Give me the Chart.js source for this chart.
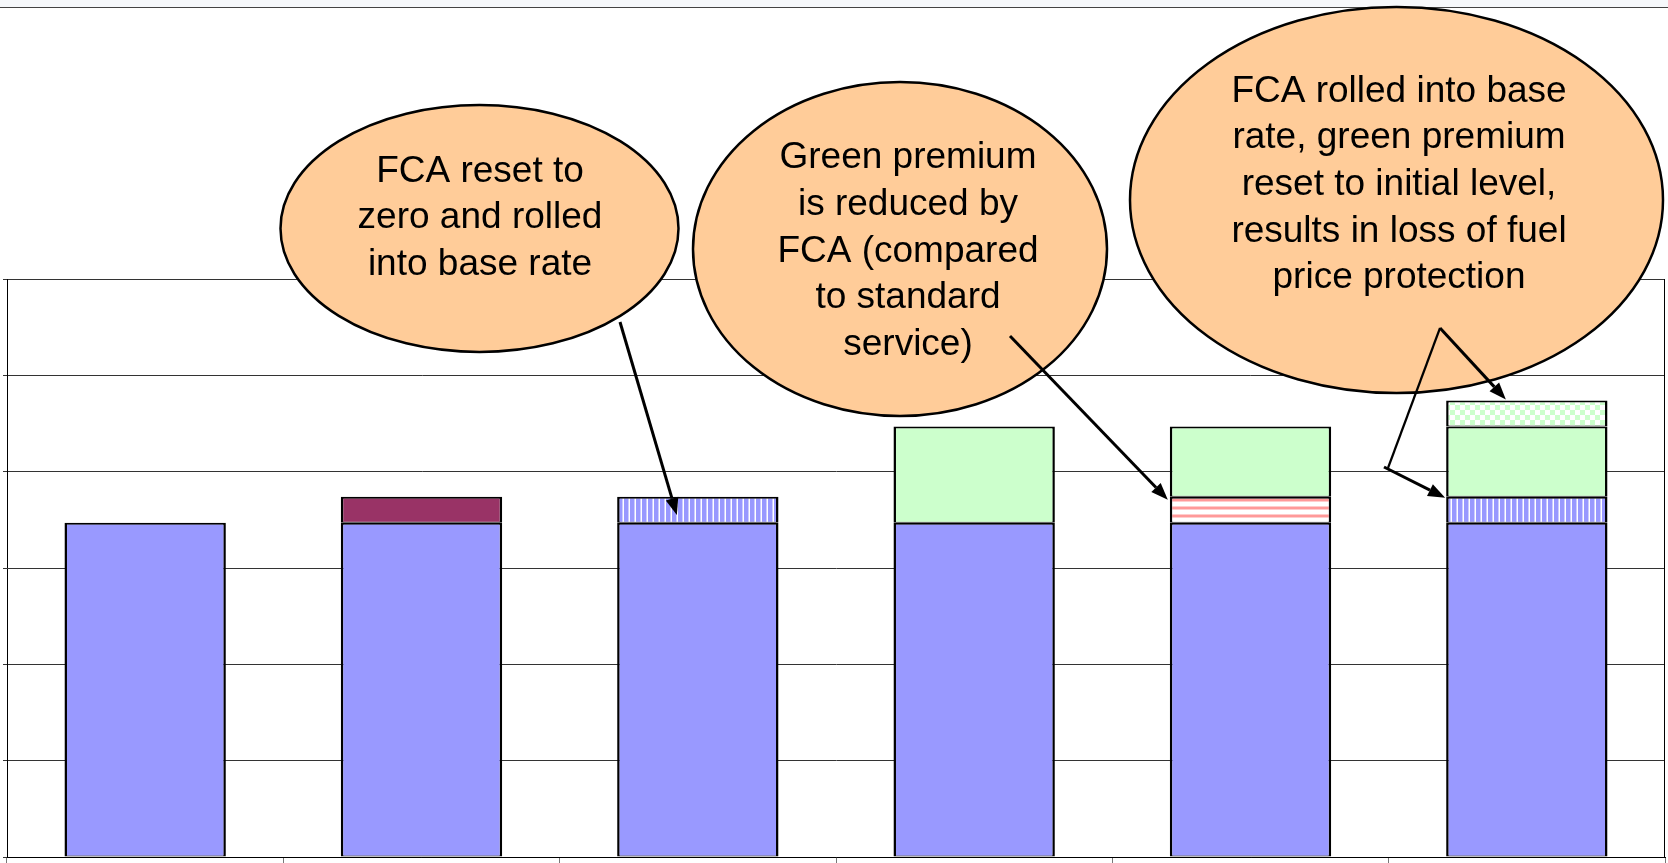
<!DOCTYPE html>
<html>
<head>
<meta charset="utf-8">
<script src="https://cdn.jsdelivr.net/npm/chart.js@4.4.1/dist/chart.umd.min.js"></script>
<style>
  html, body { margin: 0; padding: 0; background: #fff; }
  #chart { display: block; }
</style>
</head>
<body>
<canvas id="chart" width="1668" height="863"></canvas>
<script>
// categories (no visible labels in the picture)
const categories = ['Standard', 'Standard + FCA', 'FCA rolled in', 'Green', 'Green + FCA', 'Green, FCA rolled in'];

// stacked segments, in grid-line units
const baseRate     = [3.47, 3.47, 3.47, 3.47, 3.47, 3.47];
const fcaCharge    = [0, 0.27, 0, 0, 0, 0];
const fcaRolledIn  = [0, 0, 0.27, 0, 0, 0.27];
const fcaReduction = [0, 0, 0, 0, 0.27, 0];
const greenPremium = [0, 0, 0, 1.0, 0.73, 0.73];
const greenReset   = [0, 0, 0, 0, 0, 0.27];

const yMin = 0, yMax = 6, yStep = 1;

const calloutText = [
  ['FCA reset to', 'zero and rolled', 'into base rate'],
  ['Green premium', 'is reduced by', 'FCA (compared', 'to standard', 'service)'],
  ['FCA rolled into base', 'rate, green premium', 'reset to initial level,', 'results in loss of fuel', 'price protection']
];

// fill patterns
const makePattern = (w, h, draw) => {
  const c = document.createElement('canvas');
  c.width = w; c.height = h;
  const g = c.getContext('2d');
  g.fillStyle = '#fff';
  g.fillRect(0, 0, w, h);
  draw(g);
  return g.createPattern(c, 'repeat');
};
const blueStripes = makePattern(6, 1, g => {
  g.fillStyle = '#9999ff'; g.fillRect(0, 0, 4, 1);
  g.fillStyle = '#ccccff'; g.fillRect(4, 0, 1, 1);
});
const redStripes = makePattern(1, 8, g => {
  g.fillStyle = '#ffcccc'; g.fillRect(0, 2, 1, 1); g.fillRect(0, 5, 1, 1);
  g.fillStyle = '#ff9999'; g.fillRect(0, 3, 1, 2);
});
const greenChecks = makePattern(10, 10, g => {
  g.fillStyle = '#ccffcc'; g.fillRect(0, 0, 5, 5); g.fillRect(5, 5, 5, 5);
});

const segBorder = ctx => ctx.raw ? {top: 2, left: 2.5, right: 2.5, bottom: 1} : 0;

const seg = (label, data, fill) => ({
  label: label,
  data: data,
  backgroundColor: fill,
  borderColor: '#000',
  borderWidth: segBorder,
  borderSkipped: false,
  barPercentage: 0.584,
  categoryPercentage: 1
});

const drawArrow = (ctx, x1, y1, x2, y2, w) => {
  const a = Math.atan2(y2 - y1, x2 - x1);
  const len = 17, half = 6.5;
  const bx = x2 - len * Math.cos(a), by = y2 - len * Math.sin(a);
  ctx.lineWidth = w;
  ctx.beginPath(); ctx.moveTo(x1, y1); ctx.lineTo(bx, by); ctx.stroke();
  ctx.beginPath();
  ctx.moveTo(x2, y2);
  ctx.lineTo(bx + half * Math.sin(a), by - half * Math.cos(a));
  ctx.lineTo(bx - half * Math.sin(a), by + half * Math.cos(a));
  ctx.closePath(); ctx.fill();
};

const calloutPlugin = {
  id: 'callouts',
  beforeDraw(chart) {
    const ctx = chart.ctx;
    ctx.save();
    ctx.fillStyle = '#f6f8fb';
    ctx.fillRect(0, 0, chart.width, 7);
    ctx.strokeStyle = '#444';
    ctx.lineWidth = 1;
    ctx.beginPath(); ctx.moveTo(0, 7.5); ctx.lineTo(chart.width, 7.5); ctx.stroke();
    ctx.restore();
  },
  afterDraw(chart) {
    const ctx = chart.ctx;
    const area = chart.chartArea;
    ctx.save();
    // right frame of the plot
    ctx.strokeStyle = '#000';
    ctx.lineWidth = 1;
    ctx.beginPath(); ctx.moveTo(area.right - 0.5, area.top); ctx.lineTo(area.right - 0.5, area.bottom); ctx.stroke();

    // ovals
    const ovals = [
      {cx: 479.5, cy: 228.5, rx: 199, ry: 123.5, tx: 480, y0: 181.7},
      {cx: 900, cy: 249, rx: 207, ry: 167, tx: 908, y0: 168.3},
      {cx: 1396.5, cy: 200, rx: 266.5, ry: 193, tx: 1399, y0: 101.7}
    ];
    ovals.forEach((o, i) => {
      ctx.beginPath();
      ctx.ellipse(o.cx, o.cy, o.rx, o.ry, 0, 0, Math.PI * 2);
      ctx.fillStyle = '#ffcc99';
      ctx.fill();
      ctx.lineWidth = 2.5;
      ctx.strokeStyle = '#000';
      ctx.stroke();
      ctx.fillStyle = '#000';
      ctx.font = '37px "Liberation Sans", Arial, sans-serif';
      ctx.textAlign = 'center';
      ctx.textBaseline = 'alphabetic';
      calloutText[i].forEach((t, k) => ctx.fillText(t, o.tx, o.y0 + k * 46.65));
    });

    // arrows to the bar segments
    const el = (d, i) => chart.getDatasetMeta(d).data[i];
    ctx.fillStyle = '#000';
    ctx.strokeStyle = '#000';
    ctx.lineCap = 'butt';

    const a1 = el(2, 2);
    drawArrow(ctx, 620, 322, a1.x - 0.13 * a1.width, a1.y + (a1.base - a1.y) * 0.7, 3);

    const a2 = el(3, 4);
    drawArrow(ctx, 1010, 336, a2.x - a2.width / 2 - 2, a2.y + 3, 3);

    const a3 = el(5, 5);
    drawArrow(ctx, 1440, 328, a3.x - 0.13 * a3.width, a3.y - 1, 3);

    const a4 = el(2, 5);
    ctx.lineWidth = 2.2;
    ctx.beginPath(); ctx.moveTo(1440, 328); ctx.lineTo(1388, 468); ctx.stroke();
    drawArrow(ctx, 1384, 467, a4.x - a4.width / 2 - 1, a4.y + 1, 3);
    ctx.restore();
  }
};

new Chart(document.getElementById('chart'), {
  type: 'bar',
  data: {
    labels: categories,
    datasets: [
      seg('Base rate', baseRate, '#9999ff'),
      seg('FCA', fcaCharge, '#993366'),
      seg('FCA rolled into base', fcaRolledIn, blueStripes),
      seg('FCA reduction', fcaReduction, redStripes),
      seg('Green premium', greenPremium, '#ccffcc'),
      seg('Green premium reset', greenReset, greenChecks)
    ]
  },
  options: {
    responsive: false,
    devicePixelRatio: 1,
    animation: false,
    layout: { padding: { top: 279, left: 3, right: 3, bottom: 0 } },
    plugins: {
      legend: { display: false },
      tooltip: { enabled: false }
    },
    scales: {
      x: {
        stacked: true,
        grid: { offset: true, drawOnChartArea: false, drawTicks: true, tickLength: 6, color: '#777' },
        ticks: { display: false },
        border: { color: '#000', width: 1 }
      },
      y: {
        stacked: true,
        min: yMin,
        max: yMax,
        ticks: { display: false, stepSize: yStep },
        grid: { color: '#333', lineWidth: 1, drawTicks: true, tickLength: 4 },
        border: { color: '#000', width: 1 }
      }
    }
  },
  plugins: [calloutPlugin]
});
</script>
</body>
</html>
